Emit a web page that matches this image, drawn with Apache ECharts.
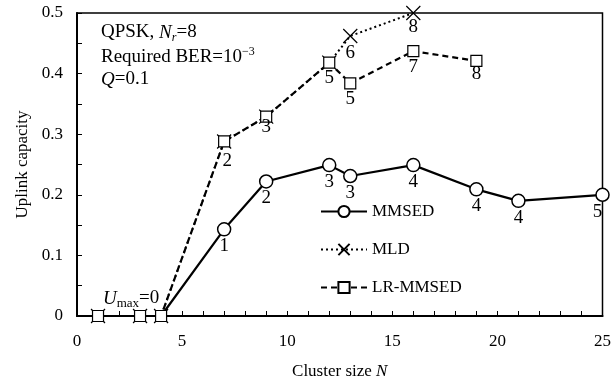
<!DOCTYPE html>
<html>
<head>
<meta charset="utf-8">
<script src="https://cdn.jsdelivr.net/npm/echarts@6/dist/echarts.min.js"></script>
<style>
  html, body { margin: 0; padding: 0; background: #fff; }
  #main { width: 614px; height: 392px; }
</style>
</head>
<body>
<div id="main"></div>
<script>
var FONT = '"Liberation Serif", "Times New Roman", serif';

// cluster size N and uplink capacity
var mmsedN = [1, 3, 4, 7, 9, 12, 13, 16, 19, 21, 25];
var mmsedCap = [0, 0, 0, 0.143, 0.222, 0.249, 0.231, 0.249, 0.209, 0.19, 0.2];
var mmsedLbl = ['', '', '', '1', '2', '3', '3', '4', '4', '4', '5'];

var mldN = [1, 3, 4, 7, 9, 12, 13, 16];
var mldCap = [0, 0, 0, 0.288, 0.329, 0.418, 0.462, 0.5];
var mldLbl = ['', '', '', '', '', '', '6', '8'];

var lrN = [1, 3, 4, 7, 9, 12, 13, 16, 19];
var lrCap = [0, 0, 0, 0.288, 0.329, 0.418, 0.384, 0.437, 0.421];
var lrLbl = ['', '', '', '2', '3', '5', '5', '7', '8'];

var seriesNames = ['MMSED', 'MLD', 'LR-MMSED'];

// a few labels sit a little off the default spot
var labelShift = { 'MMSED-25': [-5, 0], 'LR-MMSED-7': [3, 4], 'LR-MMSED-9': [0, -5], 'MLD-16': [0, -3], 'LR-MMSED-19': [0, -2] };

function build(name, xs, ys, lbls, hideZero) {
    return xs.map(function (x, i) {
        var d = { value: [x, ys[i]], label: { formatter: lbls[i] } };
        var k = labelShift[name + '-' + x];
        if (k) d.label.offset = k;
        if (hideZero && ys[i] === 0) d.symbol = 'none';
        return d;
    });
}

var labelBase = { show: true, position: 'bottom', distance: 0, color: '#000', fontFamily: FONT, fontSize: 19 };
var xMark = 'path://M0,0L10,10M10,0L0,10';

var dom = document.getElementById('main');
var myChart = echarts.init(dom);
var option = {
    animation: false,
    backgroundColor: '#fff',
    textStyle: { fontFamily: FONT, color: '#000' },
    grid: { left: 77, right: 9, top: 13, bottom: 76, show: true, borderColor: '#000', borderWidth: 1.5, backgroundColor: 'transparent' },
    legend: {
        orient: 'vertical',
        left: 315,
        top: 198,
        itemWidth: 46,
        itemHeight: 14,
        itemGap: 21,
        data: seriesNames,
        textStyle: { fontFamily: FONT, fontSize: 17, color: '#000' }
    },
    xAxis: {
        type: 'value', min: 0, max: 25, interval: 1,
        name: 'Cluster size {i|N}',
        nameLocation: 'middle', nameGap: 47,
        nameTextStyle: { fontFamily: FONT, fontSize: 17, color: '#000', rich: { i: { fontFamily: FONT, fontSize: 17, fontStyle: 'italic' } } },
        axisLine: { lineStyle: { color: '#000', width: 2 } },
        axisTick: { inside: true, length: 5, lineStyle: { color: '#000', width: 1 } },
        axisLabel: { margin: 17, fontFamily: FONT, fontSize: 17, color: '#000',
            formatter: function (v) { return v % 5 === 0 ? String(v) : ''; } },
        splitLine: { show: false }
    },
    yAxis: {
        type: 'value', min: 0, max: 0.5, interval: 0.05,
        name: 'Uplink capacity',
        nameLocation: 'middle', nameGap: 43,
        nameTextStyle: { fontFamily: FONT, fontSize: 17, color: '#000' },
        axisLine: { show: true, lineStyle: { color: '#000', width: 2 } },
        axisTick: { show: true, inside: true, length: 5, lineStyle: { color: '#000', width: 1 } },
        axisLabel: { margin: 14, fontFamily: FONT, fontSize: 17, color: '#000',
            formatter: function (v) {
                var t = Math.round(v * 100);
                if (t % 10 !== 0) return '';
                return t === 0 ? '0' : (t / 100).toFixed(1);
            } },
        splitLine: { show: false }
    },
    graphic: [
        {
            type: 'text', left: 101, top: 23, z: 100,
            style: {
                text: '{a|QPSK, }{i|N}{s|r}{a|=8}',
                fill: '#000',
                rich: {
                    a: { fontFamily: FONT, fontSize: 19 },
                    i: { fontFamily: FONT, fontSize: 19, fontStyle: 'italic' },
                    s: { fontFamily: FONT, fontSize: 12, fontStyle: 'italic', padding: [10, 0, 0, 0] }
                }
            }
        },
        {
            type: 'text', left: 101, top: 46, z: 100,
            style: {
                text: '{a|Required BER=10}{p|\u22123}',
                fill: '#000',
                rich: {
                    a: { fontFamily: FONT, fontSize: 19 },
                    p: { fontFamily: FONT, fontSize: 12, padding: [0, 0, 11, 0] }
                }
            }
        },
        {
            type: 'text', left: 101, top: 70, z: 100,
            style: {
                text: '{i|Q}{a|=0.1}',
                fill: '#000',
                rich: {
                    a: { fontFamily: FONT, fontSize: 19 },
                    i: { fontFamily: FONT, fontSize: 19, fontStyle: 'italic' }
                }
            }
        },
        {
            type: 'text', left: 103, top: 289, z: 100,
            style: {
                text: '{i|U}{s|max}{a|=0}',
                fill: '#000',
                rich: {
                    a: { fontFamily: FONT, fontSize: 19 },
                    i: { fontFamily: FONT, fontSize: 19, fontStyle: 'italic' },
                    s: { fontFamily: FONT, fontSize: 13, padding: [10, 0, 0, 0] }
                }
            }
        }
    ],
    series: [
        {
            name: 'MMSED', type: 'line', z: 3,
            data: build('MMSED', mmsedN, mmsedCap, mmsedLbl, true),
            symbol: 'circle', symbolSize: 13,
            itemStyle: { color: '#fff', borderColor: '#000', borderWidth: 1.5 },
            lineStyle: { color: '#000', width: 2.2, type: 'solid' },
            label: labelBase
        },
        {
            name: 'MLD', type: 'line', z: 4,
            data: build('MLD', mldN, mldCap, mldLbl, false),
            symbol: xMark, symbolSize: 14,
            itemStyle: { color: '#000', borderColor: '#000', borderWidth: 1.2 },
            lineStyle: { color: '#000', width: 2, type: [2, 3] },
            label: labelBase
        },
        {
            name: 'LR-MMSED', type: 'line', z: 5,
            data: build('LR-MMSED', lrN, lrCap, lrLbl, false),
            symbol: 'rect', symbolSize: 11,
            itemStyle: { color: '#fff', borderColor: '#000', borderWidth: 1.2 },
            lineStyle: { color: '#000', width: 2.2, type: [6, 4] },
            label: labelBase
        }
    ]
};
myChart.setOption(option);
window.onresize = myChart.resize;
</script>
</body>
</html>
